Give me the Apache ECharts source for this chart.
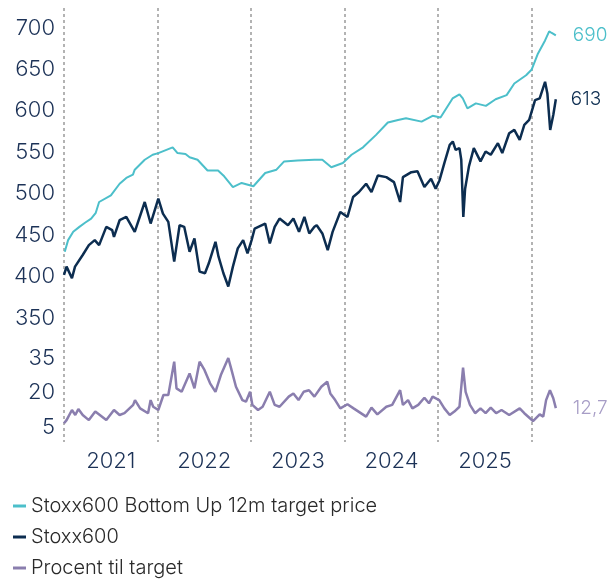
<!DOCTYPE html>
<html>
<head>
<meta charset="utf-8">
<script src="https://cdn.jsdelivr.net/npm/echarts@6/dist/echarts.min.js"></script>
<style>
html, body { margin: 0; padding: 0; background: #fff; }
#chart { width: 616px; height: 580px; }
</style>
</head>
<body>
<div id="chart"></div>
<script>
// Stoxx600 Bottom Up 12m target price
const targetDates = ['2021-01-04','2021-01-17','2021-02-06','2021-03-02','2021-03-24','2021-04-17','2021-05-05','2021-05-18','2021-07-03','2021-08-06','2021-09-01','2021-09-27','2021-10-04','2021-11-12','2021-12-13','2022-01-04','2022-03-01','2022-03-20','2022-04-20','2022-05-06','2022-06-06','2022-07-15','2022-08-25','2022-09-18','2022-10-22','2022-11-25','2023-01-10','2023-02-25','2023-04-10','2023-05-10','2023-07-01','2023-09-05','2023-10-06','2023-11-10','2023-12-25','2024-01-28','2024-03-13','2024-05-03','2024-06-18','2024-07-28','2024-08-28','2024-10-28','2024-12-10','2025-01-10','2025-02-26','2025-03-25','2025-04-07','2025-04-25','2025-05-28','2025-07-06','2025-08-13','2025-09-25','2025-10-25','2025-12-10','2026-01-01','2026-01-25','2026-02-22','2026-03-10','2026-03-20','2026-04-05'];
const targetValues = [430,444,454,460,465,470,477,490,498,512,519,523,529,541,547,549,556,549,548,544,541,528,528,521,508,513,509,525,529,539,540,541,541,532,537,547,556,571,586,589,591,587,594,592,615,620,615,603,609,606,614,619,633,643,650,669,685,696,694,691];

// Stoxx600
const indexDates = ['2021-01-01','2021-01-11','2021-02-01','2021-02-13','2021-03-15','2021-04-08','2021-05-01','2021-05-18','2021-06-15','2021-07-08','2021-07-15','2021-08-06','2021-09-01','2021-10-04','2021-11-12','2021-12-05','2022-01-04','2022-01-22','2022-02-12','2022-03-07','2022-03-28','2022-04-15','2022-05-06','2022-05-25','2022-06-14','2022-07-05','2022-07-20','2022-08-15','2022-08-27','2022-09-15','2022-10-04','2022-10-22','2022-11-10','2022-12-01','2022-12-18','2023-01-03','2023-01-15','2023-02-25','2023-03-15','2023-04-03','2023-04-22','2023-05-25','2023-06-15','2023-07-07','2023-07-28','2023-08-16','2023-09-05','2023-09-14','2023-10-06','2023-10-27','2023-11-15','2023-12-15','2024-01-12','2024-02-03','2024-02-26','2024-03-25','2024-04-15','2024-05-10','2024-06-12','2024-07-12','2024-08-05','2024-08-16','2024-09-18','2024-10-12','2024-11-08','2024-12-04','2024-12-22','2025-01-06','2025-01-25','2025-02-15','2025-02-27','2025-03-10','2025-03-25','2025-04-01','2025-04-09','2025-04-16','2025-05-01','2025-05-20','2025-06-15','2025-07-05','2025-07-25','2025-08-22','2025-09-08','2025-10-05','2025-10-25','2025-11-15','2025-12-03','2025-12-22','2026-01-14','2026-02-01','2026-02-22','2026-03-03','2026-03-14','2026-03-26','2026-04-05'];
const indexValues = [402,412,398,412,426,438,444,438,460,456,448,468,472,454,490,464,494,476,466,418,462,460,430,446,406,404,416,442,424,404,388,412,434,444,428,444,458,464,440,460,470,462,470,454,472,452,460,462,452,432,454,478,472,496,502,512,502,522,520,514,490,520,526,527,508,518,506,516,537,559,563,553,555,541,472,506,533,555,539,551,547,561,549,573,577,565,583,589,613,615,635,621,577,595,614];

// Procent til target
const pctDates = ['2021-01-01','2021-01-11','2021-02-01','2021-02-14','2021-02-26','2021-03-15','2021-04-08','2021-05-03','2021-06-15','2021-07-15','2021-08-06','2021-08-25','2021-09-28','2021-10-05','2021-10-25','2021-11-25','2021-12-05','2021-12-15','2022-01-04','2022-01-24','2022-02-12','2022-03-07','2022-03-16','2022-04-05','2022-05-06','2022-05-25','2022-06-14','2022-07-03','2022-07-25','2022-08-15','2022-09-05','2022-10-04','2022-10-15','2022-11-03','2022-11-28','2022-12-12','2022-12-28','2023-01-06','2023-01-28','2023-02-15','2023-03-15','2023-04-03','2023-04-22','2023-05-28','2023-06-15','2023-07-05','2023-07-25','2023-08-15','2023-09-05','2023-10-02','2023-10-25','2023-11-06','2023-11-25','2023-12-15','2024-01-12','2024-02-05','2024-03-25','2024-04-15','2024-05-08','2024-06-12','2024-07-05','2024-08-05','2024-08-16','2024-09-05','2024-09-22','2024-10-15','2024-11-08','2024-11-26','2024-12-10','2025-01-05','2025-01-25','2025-02-15','2025-03-05','2025-03-25','2025-04-08','2025-04-18','2025-05-05','2025-05-25','2025-06-15','2025-07-05','2025-07-25','2025-08-15','2025-09-05','2025-10-05','2025-11-15','2025-12-03','2026-01-06','2026-02-01','2026-02-15','2026-02-26','2026-03-13','2026-03-26','2026-04-05'];
const pctValues = [6.6,8,12.4,10.2,12.8,10.2,8,11.7,8,12.4,10.2,11,14.6,16.7,13.1,11,16.7,13.8,12.4,18.9,18.9,33.4,21.8,20.3,28.3,21.8,33.4,29.8,24,20.3,27.6,35,30.5,22.5,16.7,16,20.3,14.6,12.4,13.8,20.3,14.6,13.8,18.2,19.6,16.7,20.3,21,18.2,22.5,24.7,19.6,16.7,13.1,14.9,13.1,9.5,13.4,10.5,13.8,14.6,21,14.6,16.7,13.1,14.6,17.7,15.3,18.2,16.7,13.1,10.2,11.7,13.8,30.8,20.3,14.6,11,13.1,11,13.4,11,12.4,10.2,13.1,11,7.6,10.5,9.5,16.7,21,17.5,13.2];

const seriesNames = ['Stoxx600 Bottom Up 12m target price', 'Stoxx600', 'Procent til target'];
const endLabels = ['690', '613', '12,7'];
const colors = ['#4cbfca', '#0c2d50', '#8a7eae'];

const FONT = 'Inter, "Noto Sans", sans-serif';
const X_MIN = 2021, X_MAX = 2026.27;

// date string -> decimal year
function yr(s) {
    const d = Date.parse(s + 'T00:00:00Z');
    const y = Number(s.slice(0, 4));
    const a = Date.UTC(y, 0, 1), b = Date.UTC(y + 1, 0, 1);
    return y + (d - a) / (b - a);
}
function pairs(dates, vals) {
    return dates.map((d, i) => [yr(d), vals[i]]);
}

const chart = echarts.init(document.getElementById('chart'));

const hiddenX = (gridIndex) => ({
    type: 'value', gridIndex, min: X_MIN, max: X_MAX, show: false
});

const option = {
    animation: false,
    backgroundColor: '#fff',
    color: colors,
    grid: [
        { left: 64, right: 59, top: 8, bottom: 138 },   // background: dashed year lines + year labels
        { left: 64, right: 59, top: 28, height: 290 },  // index / target
        { left: 64, right: 59, top: 358, height: 69 }   // percent
    ],
    legend: {
        orient: 'vertical',
        left: 13,
        top: 496,
        height: 120,
        padding: 0,
        itemWidth: 13,
        itemHeight: 3,
        itemGap: 11,
        icon: 'rect',
        data: seriesNames,
        textStyle: { fontFamily: FONT, fontSize: 20, fontWeight: 300, color: '#2a2a2a', lineHeight: 20 }
    },
    xAxis: [
        {
            type: 'value', gridIndex: 0, position: 'top', min: X_MIN, max: X_MAX, interval: 1,
            axisLine: { show: false }, axisTick: { show: false }, axisLabel: { show: false },
            splitLine: { show: true, showMinLine: true, showMaxLine: false, lineStyle: { color: '#9a9a9a', width: 1.5, type: [3, 3] } }
        },
        {
            type: 'value', gridIndex: 0, position: 'bottom', min: X_MIN, max: X_MAX, interval: 0.5,
            axisLine: { show: false }, axisTick: { show: false }, splitLine: { show: false },
            axisLabel: {
                margin: 8,
                fontFamily: FONT, fontSize: 22, fontWeight: 300, color: '#1c3257',
                showMinLabel: true, showMaxLabel: true,
                formatter: (v) => Math.abs(v - Math.floor(v) - 0.5) < 1e-6 ? String(Math.floor(v)) : ''
            }
        },
        hiddenX(1),
        hiddenX(2)
    ],
    yAxis: [
        { type: 'value', gridIndex: 0, min: 0, max: 1, show: false },
        {
            type: 'value', gridIndex: 1, min: 350, max: 700, interval: 50,
            axisLine: { show: false }, axisTick: { show: false }, splitLine: { show: false },
            axisLabel: { margin: 9, fontFamily: FONT, fontSize: 22, fontWeight: 300, color: '#1c3257' }
        },
        {
            type: 'value', gridIndex: 2, min: 5, max: 35, interval: 15,
            axisLine: { show: false }, axisTick: { show: false }, splitLine: { show: false },
            axisLabel: { margin: 9, fontFamily: FONT, fontSize: 22, fontWeight: 300, color: '#1c3257' }
        }
    ],
    series: [
        {
            name: seriesNames[0], type: 'line', xAxisIndex: 2, yAxisIndex: 1,
            data: pairs(targetDates, targetValues), showSymbol: false, clip: false,
            lineStyle: { color: colors[0], width: 2 },
            endLabel: { show: true, formatter: endLabels[0], distance: 17, color: colors[0], fontFamily: FONT, fontSize: 19, fontWeight: 300 }
        },
        {
            name: seriesNames[1], type: 'line', xAxisIndex: 2, yAxisIndex: 1,
            data: pairs(indexDates, indexValues), showSymbol: false, clip: false,
            lineStyle: { color: colors[1], width: 2.5 },
            endLabel: { show: true, formatter: endLabels[1], distance: 15, color: colors[1], fontFamily: FONT, fontSize: 19, fontWeight: 300 }
        },
        {
            name: seriesNames[2], type: 'line', xAxisIndex: 3, yAxisIndex: 2,
            data: pairs(pctDates, pctValues), showSymbol: false, clip: false,
            lineStyle: { color: colors[2], width: 2.5 },
            endLabel: { show: true, formatter: endLabels[2], distance: 17, color: '#a79dc6', fontFamily: FONT, fontSize: 19, fontWeight: 300 }
        }
    ]
};

chart.setOption(option);
</script>
</body>
</html>
